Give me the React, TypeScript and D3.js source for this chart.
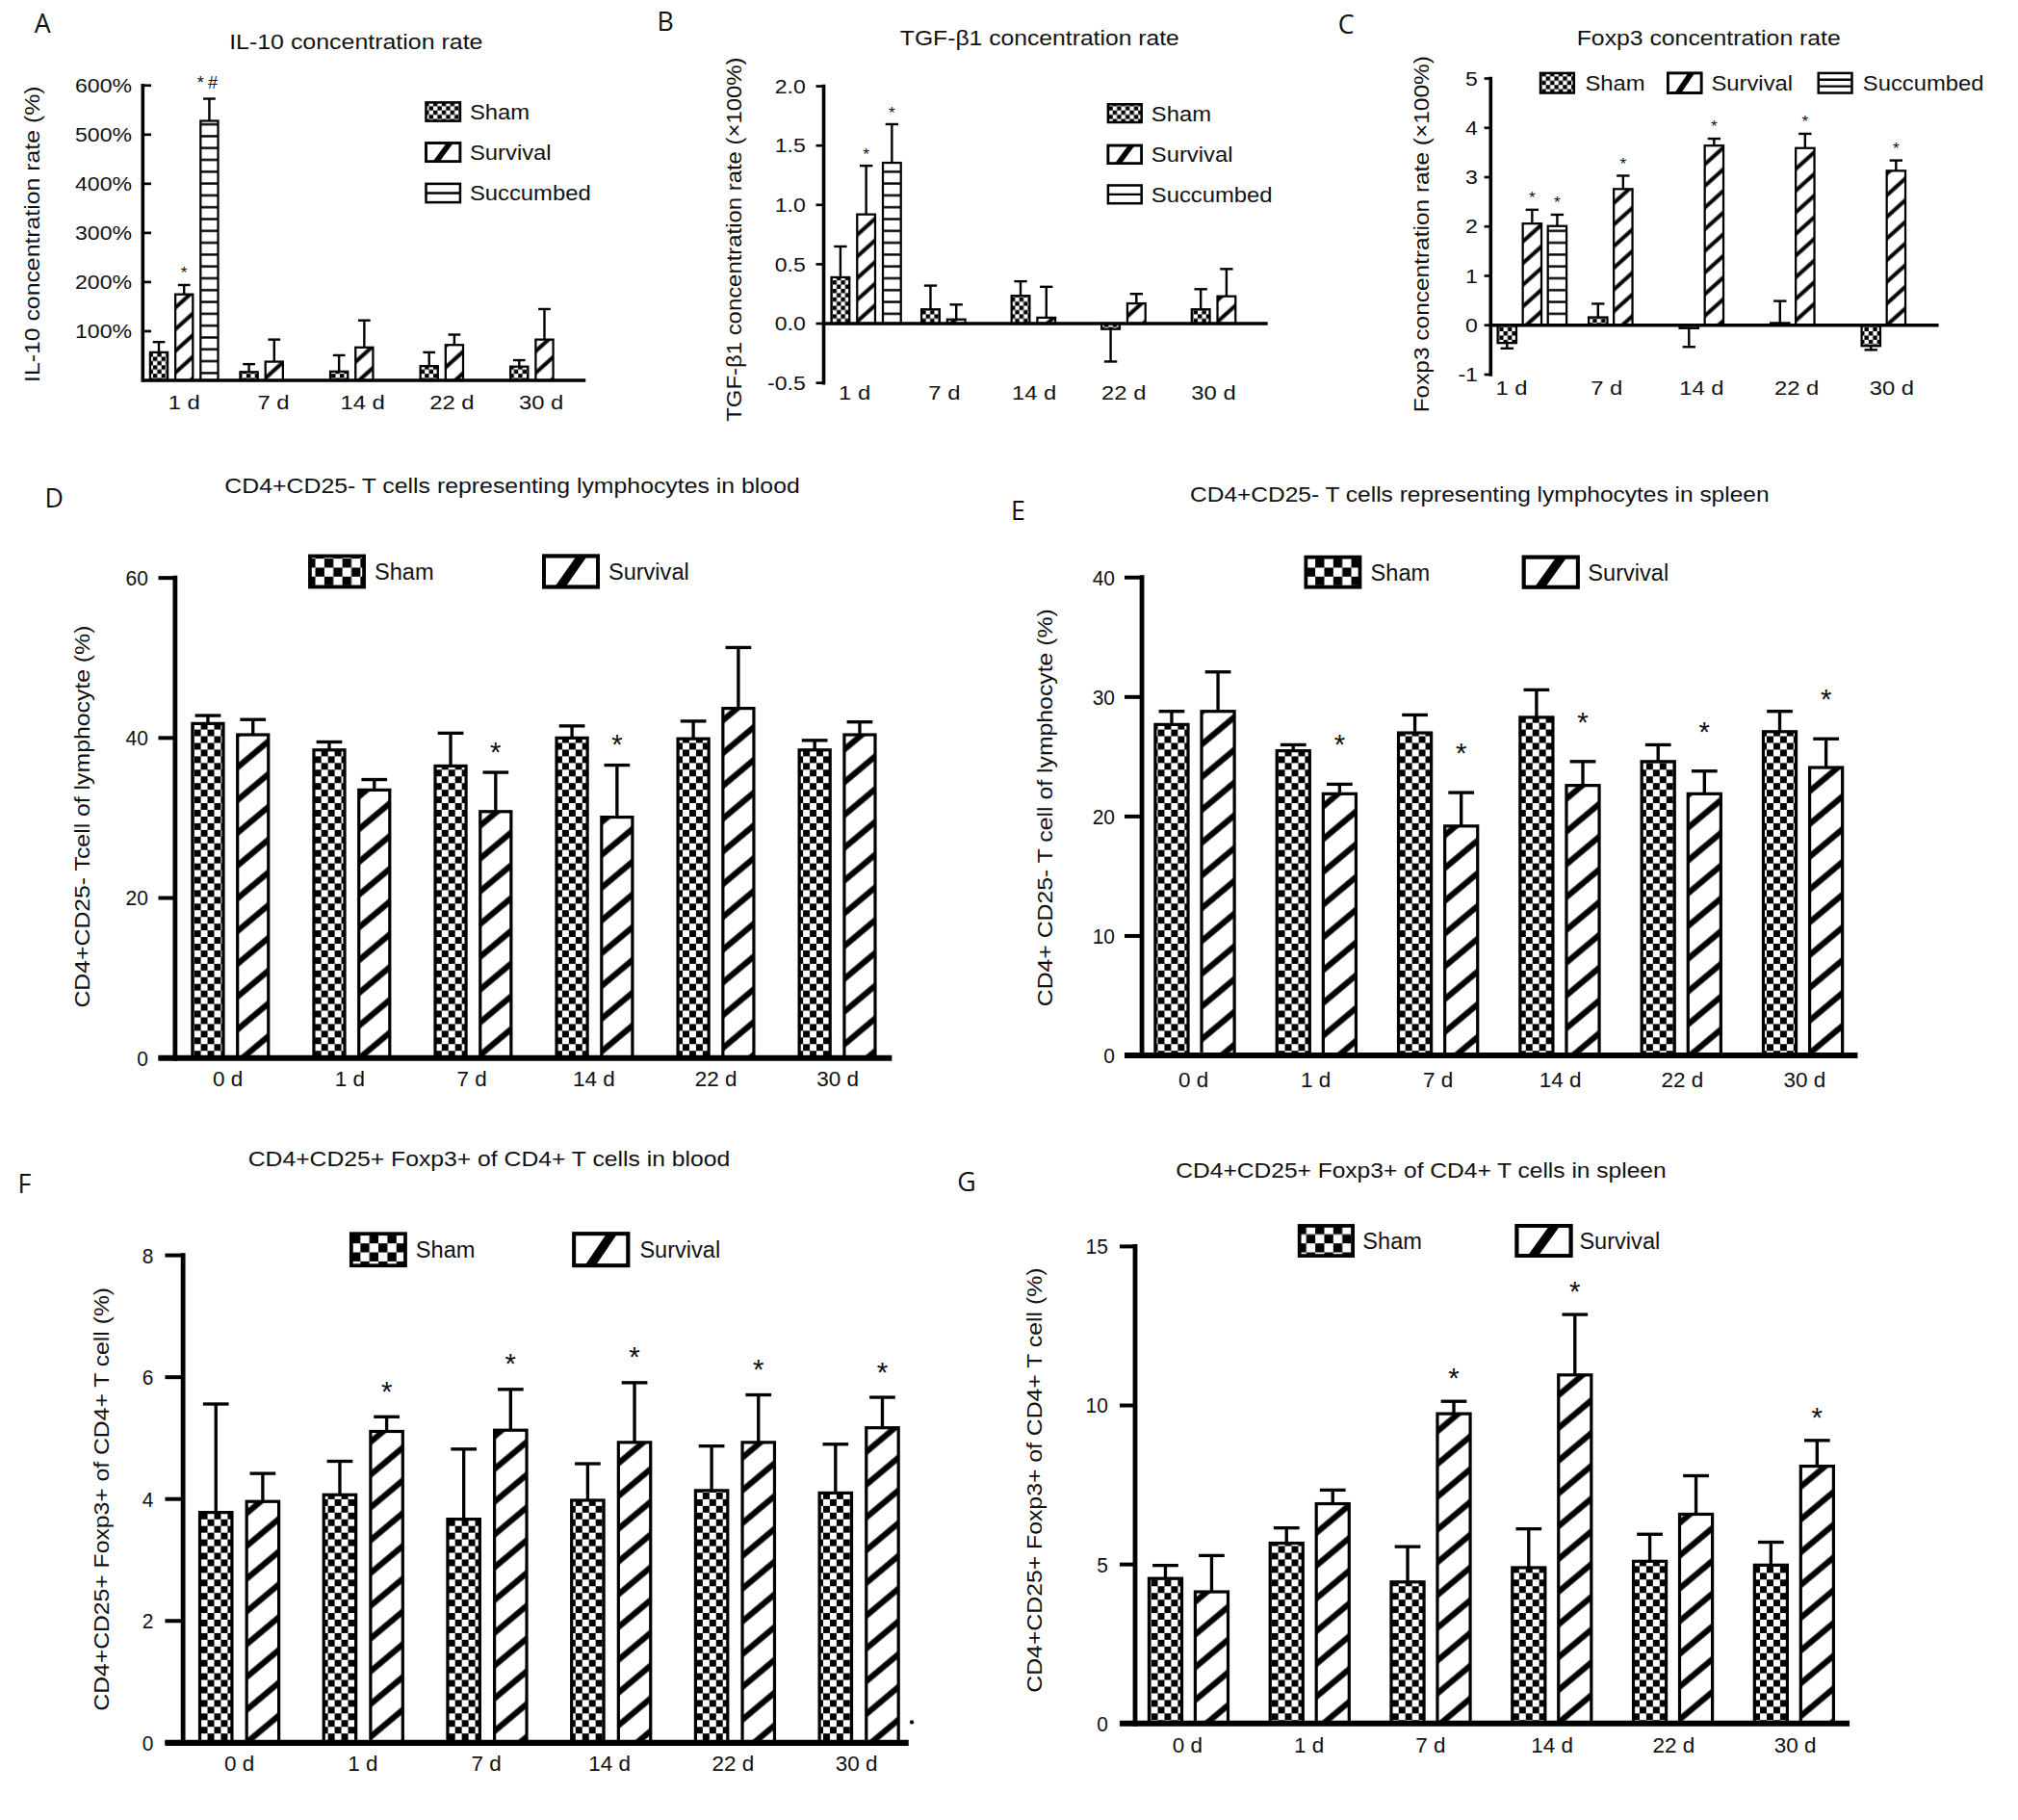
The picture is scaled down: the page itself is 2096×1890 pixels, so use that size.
import React from "react";
import * as d3 from "d3";

const FONT = "'Liberation Sans', Arial, Helvetica, sans-serif";
const LETTER_FONT = "'Open Sans', 'DejaVu Sans', sans-serif";

// ---------------- data ----------------
const daysABC = ["1 d", "7 d", "14 d", "22 d", "30 d"];
const daysDG = ["0 d", "1 d", "7 d", "14 d", "22 d", "30 d"];

// A: IL-10 concentration rate (%)
const il10Sham = [57, 17, 18, 29, 28];
const il10ShamSd = [21, 16, 33, 28, 13];
const il10Survival = [175, 38, 67, 72, 83];
const il10SurvivalSd = [19, 45, 55, 21, 62];
const il10Succumbed = [528, null, null, null, null];
const il10SuccumbedSd = [45, null, null, null, null];
const il10SurvivalSig = ["*", "", "", "", ""];
const il10SuccumbedSig = ["*#", "", "", "", ""];
const il10Ticks = [100, 200, 300, 400, 500, 600];

// B: TGF-β1 concentration rate (×100%)
const tgfSham = [0.39, 0.12, 0.234, -0.046, 0.12];
const tgfShamSd = [0.26, 0.2, 0.122, 0.274, 0.17];
const tgfSurvival = [0.92, 0.035, 0.05, 0.17, 0.23];
const tgfSurvivalSd = [0.41, 0.125, 0.26, 0.08, 0.23];
const tgfSuccumbed = [1.355, null, null, null, null];
const tgfSuccumbedSd = [0.325, null, null, null, null];
const tgfSurvivalSig = ["*", "", "", "", ""];
const tgfSuccumbedSig = ["*", "", "", "", ""];
const tgfTicks = [-0.5, 0, 0.5, 1.0, 1.5, 2.0];

// C: Foxp3 concentration rate (×100%)
const foxSham = [-0.36, 0.16, -0.06, 0.045, -0.42];
const foxShamSd = [0.11, 0.275, 0.38, 0.445, 0.08];
const foxSurvival = [2.06, 2.76, 3.64, 3.59, 3.13];
const foxSurvivalSd = [0.28, 0.27, 0.14, 0.29, 0.21];
const foxSuccumbed = [2.01, null, null, null, null];
const foxSuccumbedSd = [0.23, null, null, null, null];
const foxSurvivalSig = ["*", "*", "*", "*", "*"];
const foxSuccumbedSig = ["*", "", "", "", ""];
const foxTicks = [-1, 0, 1, 2, 3, 4, 5];

// D: CD4+CD25- T cells in blood (%)
const dSham = [41.8, 38.5, 36.5, 40.0, 39.9, 38.5];
const dShamSd = [1.0, 1.0, 4.1, 1.5, 2.2, 1.2];
const dSurvival = [40.4, 33.5, 30.8, 30.1, 43.7, 40.4];
const dSurvivalSd = [1.9, 1.3, 4.9, 6.5, 7.6, 1.6];
const dSurvivalSig = ["", "", "*", "*", "", ""];
const dTicks = [0, 20, 40, 60];

// E: CD4+CD25- T cells in spleen (%)
const eSham = [27.7, 25.5, 27.0, 28.3, 24.6, 27.1];
const eShamSd = [1.1, 0.5, 1.5, 2.3, 1.4, 1.7];
const eSurvival = [28.8, 21.9, 19.2, 22.6, 21.9, 24.1];
const eSurvivalSd = [3.3, 0.8, 2.8, 2.0, 1.9, 2.4];
const eSurvivalSig = ["", "*", "*", "*", "*", "*"];
const eTicks = [0, 10, 20, 30, 40];

// F: CD4+CD25+Foxp3+ of CD4+ T cells in blood (%)
const fSham = [3.78, 4.07, 3.67, 3.98, 4.14, 4.1];
const fShamSd = [1.78, 0.55, 1.15, 0.6, 0.73, 0.8];
const fSurvival = [3.96, 5.11, 5.13, 4.93, 4.93, 5.17];
const fSurvivalSd = [0.46, 0.24, 0.67, 0.98, 0.78, 0.5];
const fSurvivalSig = ["", "*", "*", "*", "*", "*"];
const fTicks = [0, 2, 4, 6, 8];

// G: CD4+CD25+Foxp3+ of CD4+ T cells in spleen (%)
const gSham = [4.56, 5.67, 4.45, 4.9, 5.1, 4.98];
const gShamSd = [0.41, 0.48, 1.11, 1.22, 0.85, 0.72];
const gSurvival = [4.14, 6.91, 9.74, 10.96, 6.58, 8.09];
const gSurvivalSd = [1.14, 0.43, 0.39, 1.9, 1.21, 0.81];
const gSurvivalSig = ["", "", "*", "*", "", "*"];
const gTicks = [0, 5, 10, 15];

const noSig5 = ["", "", "", "", ""];
const noSig6 = ["", "", "", "", "", ""];

// ---------------- helpers ----------------
function Txt({ x, y, children, size, anchor = "middle", sx = 1, len, rotate = 0, family = FONT, fill = "#111", spacing }: any) {
  let tr = `translate(${x},${y})`;
  if (rotate) tr += ` rotate(${rotate})`;
  if (sx !== 1) tr += ` scale(${sx},1)`;
  const extra: any = len ? { textLength: len, lengthAdjust: "spacingAndGlyphs" } : {};
  if (spacing) extra.letterSpacing = spacing;
  return (
    <text transform={tr} fontSize={size} textAnchor={anchor} fontFamily={family} fill={fill} {...extra}>
      {children}
    </text>
  );
}

function Patterns() {
  const chk = (id: string, c: number) => (
    <pattern id={id} width={2 * c} height={2 * c} patternUnits="userSpaceOnUse">
      <rect width={2 * c} height={2 * c} fill="#fff" />
      <rect width={c} height={c} fill="#000" />
      <rect x={c} y={c} width={c} height={c} fill="#000" />
    </pattern>
  );
  const hatch = (id: string, p: number, sw: number, rot: number) => (
    <pattern id={id} width={p} height={p} patternUnits="userSpaceOnUse" patternTransform={`rotate(${rot})`}>
      <rect width={p} height={p} fill="#fff" />
      <line x1={p / 2} y1={-1} x2={p / 2} y2={p + 1} stroke="#000" strokeWidth={sw} />
    </pattern>
  );
  return (
    <defs>
      {chk("chkS", 3.3)}
      {chk("chkL", 5.2)}
      {chk("chkLeg", 7)}
      {chk("chkLegS", 3.3)}
      {hatch("hatchS", 12.5, 3.0, 48)}
      {hatch("hatchL", 19.5, 4.6, 50)}
      <pattern id="horiz" width={10} height={9.2} patternUnits="userSpaceOnUse">
        <rect width={10} height={9.2} fill="#fff" />
        <line x1={0} y1={4.6} x2={10} y2={4.6} stroke="#000" strokeWidth={1.8} />
      </pattern>
    </defs>
  );
}

function Swatch({ kind, x, y, w, h, sw, big, lines }: any) {
  if (kind === "checker") {
    return <rect x={x} y={y} width={w} height={h} fill={big ? "url(#chkLeg)" : "url(#chkLegS)"} stroke="#000" strokeWidth={sw} />;
  }
  if (kind === "hatch") {
    const t = 0.2;
    return (
      <g>
        <rect x={x} y={y} width={w} height={h} fill="#fff" stroke="#000" strokeWidth={sw} />
        <polygon
          points={`${x + w * 0.2},${y + h} ${x + w * (0.2 + t)},${y + h} ${x + w * 0.8},${y} ${x + w * (0.8 - t)},${y}`}
          fill="#000"
        />
        <rect x={x} y={y} width={w} height={h} fill="none" stroke="#000" strokeWidth={sw} />
      </g>
    );
  }
  const ls = d3.range(1, lines + 1).map((k) => y + (h * k) / (lines + 1));
  return (
    <g>
      <rect x={x} y={y} width={w} height={h} fill="#fff" stroke="#000" strokeWidth={sw} />
      {ls.map((ly, i) => (
        <line key={i} x1={x} x2={x + w} y1={ly} y2={ly} stroke="#000" strokeWidth={1.8} />
      ))}
    </g>
  );
}

function BarPanel({ p }: any) {
  const y = d3.scaleLinear().domain(p.yDomain).range(p.yRange);
  const n = p.days.length;
  const xg = d3.scalePoint().domain(p.days).range([p.c0, p.c0 + p.spacing * (n - 1)]);
  const m = p.series.length;
  const pad = 1 - p.barW / p.pitch;
  const xs = d3
    .scaleBand()
    .domain(p.series.map((s: any) => s.key))
    .range([(-m * p.pitch) / 2, (m * p.pitch) / 2])
    .paddingInner(pad)
    .paddingOuter(pad / 2);
  const xl = d3.scalePoint().domain(p.days).range(p.labelRange);
  const y0 = y(0);
  const bw = xs.bandwidth();

  const bars: any[] = [];
  const errs: any[] = [];
  const stars: any[] = [];
  p.series.forEach((s: any) => {
    p.days.forEach((d: string, i: number) => {
      const v = s.values[i];
      if (v === null || v === undefined) return;
      const bx = (xg(d) as number) + (xs(s.key) as number);
      const cx = bx + bw / 2;
      const yv = y(v);
      bars.push(
        <rect
          key={`b-${s.key}-${i}`}
          x={bx}
          y={Math.min(yv, y0)}
          width={bw}
          height={Math.max(Math.abs(yv - y0), 0.5)}
          fill={`url(#${s.fill})`}
          stroke="#000"
          strokeWidth={p.barStroke}
        />
      );
      const sd = s.sd[i];
      if (sd !== null && sd !== undefined) {
        const end = v >= 0 ? v + sd : v - sd;
        const ye = y(end);
        errs.push(
          <g key={`e-${s.key}-${i}`} stroke="#000" strokeWidth={p.errStroke}>
            <line x1={cx} x2={cx} y1={yv} y2={ye} />
            <line x1={cx - p.capW / 2} x2={cx + p.capW / 2} y1={ye} y2={ye} />
          </g>
        );
        const sig = s.sig[i];
        if (sig) {
          const cy = ye - p.starOffset;
          const multi = sig.length > 1;
          stars.push(
            <Txt
              key={`s-${s.key}-${i}`}
              x={cx}
              y={cy + (multi ? 0.4 : 0.575) * p.starFont}
              size={multi ? p.starFont * 1.05 : p.starFont}
              spacing={multi ? 3 : undefined}
            >
              {sig}
            </Txt>
          );
        }
      }
    });
  });

  const topV = p.yDomain[1];
  const botV = p.yDomain[0];
  const dir = p.tickInward ? 1 : -1;

  return (
    <g>
      <Txt x={p.letter[1]} y={p.letter[2] + 0.36 * p.letterFont} size={p.letterFont} family={LETTER_FONT}>
        {p.letter[0]}
      </Txt>
      <Txt x={p.title.x} y={p.title.y + 0.35 * p.title.fs} size={p.title.fs} len={p.title.len}>
        {p.title.text}
      </Txt>
      <Txt x={p.ylab.x + 0.35 * p.ylab.fs} y={p.ylab.cy} size={p.ylab.fs} rotate={-90} len={p.ylab.len}>
        {p.ylab.text}
      </Txt>
      {bars}
      {errs}
      {stars}
      <line
        x1={p.axisX}
        x2={p.axisX}
        y1={y(topV) - p.axisW / 2}
        y2={y(botV) + (botV === 0 ? p.xAxisW / 2 : p.axisW / 2)}
        stroke="#000"
        strokeWidth={p.axisW}
      />
      {p.ticks.map((t: number) => (
        <g key={`t-${t}`}>
          <line x1={p.axisX} x2={p.axisX + dir * p.tickLen} y1={y(t)} y2={y(t)} stroke="#000" strokeWidth={p.tickW} />
          <Txt x={p.axisX - p.labelGap} y={y(t) + 0.36 * p.tickFont} size={p.tickFont} anchor="end" sx={p.tickSx}>
            {p.tickFmt(t)}
          </Txt>
        </g>
      ))}
      <line x1={p.axisX - p.xAxisStartOff} x2={p.xEnd} y1={y0} y2={y0} stroke="#000" strokeWidth={p.xAxisW} />
      {p.days.map((d: string) => (
        <Txt key={`xl-${d}`} x={xl(d)} y={p.labelY} size={p.labelFont} sx={p.labelSx}>
          {d}
        </Txt>
      ))}
      {p.series.map((s: any, i: number) => {
        const L = p.legend[i];
        return (
          <g key={`lg-${s.key}`}>
            <Swatch kind={s.kind} x={L.x} y={L.cy - L.h / 2} w={L.w} h={L.h} sw={p.legendStroke} big={p.bigLegend} lines={L.lines || 1} />
            <Txt x={L.tx} y={L.cy + 0.36 * p.legendFont} size={p.legendFont} anchor="start" sx={p.legendSx}>
              {s.key}
            </Txt>
          </g>
        );
      })}
    </g>
  );
}

// ---------------- panel configs ----------------
const pct = (d: number) => `${d}%`;
const fix1 = (d: number) => d.toFixed(1);
const plain = (d: number) => `${d}`;

const styleABC = {
  barStroke: 1.7,
  errStroke: 1.8,
  axisW: 2.7,
  xAxisW: 2.5,
  tickW: 2,
  tickFont: 15,
  tickSx: 1.15,
  labelFont: 15.5,
  labelSx: 1.15,
  legendFont: 16.5,
  legendSx: 1.08,
  legendStroke: 1.9,
  starFont: 13,
  letterFont: 20,
  xAxisStartOff: 0,
  bigLegend: false,
  tickInward: false,
};
const styleDG = {
  barStroke: 2.4,
  errStroke: 2.5,
  axisW: 3.6,
  xAxisW: 4.6,
  tickW: 3,
  tickFont: 16.5,
  tickSx: 0.95,
  labelFont: 16.5,
  labelSx: 1.02,
  legendFont: 18,
  legendSx: 0.98,
  legendStroke: 2.8,
  starFont: 22,
  letterFont: 20,
  bigLegend: true,
  tickInward: false,
};

const abcSeries = (sham: any, shamSd: any, surv: any, survSd: any, survSig: any, succ: any, succSd: any, succSig: any) => [
  { key: "Sham", values: sham, sd: shamSd, sig: noSig5, fill: "chkS", kind: "checker" },
  { key: "Survival", values: surv, sd: survSd, sig: survSig, fill: "hatchS", kind: "hatch" },
  { key: "Succumbed", values: succ, sd: succSd, sig: succSig, fill: "horiz", kind: "horiz" },
];
const dgSeries = (sham: any, shamSd: any, surv: any, survSd: any, survSig: any) => [
  { key: "Sham", values: sham, sd: shamSd, sig: noSig6, fill: "chkL", kind: "checker" },
  { key: "Survival", values: surv, sd: survSd, sig: survSig, fill: "hatchL", kind: "hatch" },
];

const panels: any[] = [
  {
    ...styleABC,
    days: daysABC,
    series: abcSeries(il10Sham, il10ShamSd, il10Survival, il10SurvivalSd, il10SurvivalSig, il10Succumbed, il10SuccumbedSd, il10SuccumbedSig),
    yDomain: [0, 600],
    yRange: [295.5, 66.4],
    ticks: il10Ticks,
    tickFmt: pct,
    axisX: 110.9,
    xEnd: 455,
    tickInward: true,
    tickLen: 6.5,
    labelGap: 8.5,
    c0: 143,
    spacing: 70,
    pitch: 19.6,
    barW: 13.6,
    capW: 9.5,
    labelRange: [143, 420.5],
    labelY: 318,
    starOffset: 13,
    letter: ["A", 33, 18],
    title: { text: "IL-10 concentration rate", x: 276.6, y: 32.3, fs: 16, len: 197 },
    ylab: { text: "IL-10 concentration rate (%)", x: 25, cy: 182, fs: 16, len: 230 },
    legend: [
      { x: 331, w: 26.5, h: 14.4, cy: 86.8, tx: 365 },
      { x: 331, w: 26.5, h: 14.4, cy: 118.3, tx: 365 },
      { x: 331, w: 26.5, h: 14.4, cy: 150, tx: 365, lines: 1 },
    ],
  },
  {
    ...styleABC,
    days: daysABC,
    series: abcSeries(tgfSham, tgfShamSd, tgfSurvival, tgfSurvivalSd, tgfSurvivalSig, tgfSuccumbed, tgfSuccumbedSd, tgfSuccumbedSig),
    yDomain: [-0.5, 2],
    yRange: [297.5, 67],
    ticks: tgfTicks,
    tickFmt: fix1,
    axisX: 640,
    xEnd: 985,
    tickLen: 6,
    labelGap: 14,
    c0: 673,
    spacing: 70,
    pitch: 20,
    barW: 14,
    capW: 10,
    labelRange: [664, 943],
    labelY: 310.5,
    starOffset: 12,
    letter: ["B", 517, 17],
    title: { text: "TGF-β1 concentration rate", x: 807.8, y: 29.5, fs: 16, len: 217 },
    ylab: { text: "TGF-β1 concentration rate (×100%)", x: 570.6, cy: 186, fs: 16, len: 283 },
    legend: [
      { x: 861, w: 26, h: 14, cy: 88, tx: 894.6 },
      { x: 861, w: 26, h: 14, cy: 120, tx: 894.6 },
      { x: 861, w: 26, h: 14, cy: 151, tx: 894.6, lines: 1 },
    ],
  },
  {
    ...styleABC,
    days: daysABC,
    series: abcSeries(foxSham, foxShamSd, foxSurvival, foxSurvivalSd, foxSurvivalSig, foxSuccumbed, foxSuccumbedSd, foxSuccumbedSig),
    yDomain: [-1, 5],
    yRange: [291, 61],
    ticks: foxTicks,
    tickFmt: plain,
    axisX: 1158.3,
    xEnd: 1506.4,
    tickLen: 5,
    labelGap: 10,
    c0: 1190.5,
    spacing: 70.7,
    pitch: 19.5,
    barW: 14.5,
    capW: 10,
    labelRange: [1174.5, 1470],
    labelY: 306.5,
    starOffset: 12.4,
    letter: ["C", 1046, 19],
    title: { text: "Foxp3 concentration rate", x: 1327.7, y: 29.4, fs: 16, len: 205 },
    ylab: { text: "Foxp3 concentration rate (×100%)", x: 1104.6, cy: 182, fs: 16, len: 277 },
    legend: [
      { x: 1197, w: 26, h: 15.4, cy: 64.5, tx: 1231.7 },
      { x: 1296, w: 26, h: 15.4, cy: 64.5, tx: 1329.7 },
      { x: 1413, w: 26, h: 15.4, cy: 64.5, tx: 1447.5, lines: 2 },
    ],
  },
  {
    ...styleDG,
    days: daysDG,
    series: dgSeries(dSham, dShamSd, dSurvival, dSurvivalSd, dSurvivalSig),
    yDomain: [0, 60],
    yRange: [822, 449],
    ticks: dTicks,
    tickFmt: plain,
    axisX: 136,
    xEnd: 693,
    tickLen: 13,
    labelGap: 21,
    xAxisStartOff: 13,
    c0: 179,
    spacing: 94.3,
    pitch: 35,
    barW: 24,
    capW: 20,
    labelRange: [177, 651],
    labelY: 844,
    starOffset: 21,
    letter: ["D", 42, 387],
    title: { text: "CD4+CD25- T cells  representing lymphocytes in  blood", x: 398, y: 377, fs: 16.5, len: 447 },
    ylab: { text: "CD4+CD25- Tcell of lymphocyte (%)", x: 64, cy: 634.5, fs: 16, len: 297 },
    legend: [
      { x: 240.8, w: 42, h: 24, cy: 444, tx: 291 },
      { x: 422.6, w: 42, h: 24, cy: 444, tx: 472.7 },
    ],
  },
  {
    ...styleDG,
    days: daysDG,
    series: dgSeries(eSham, eShamSd, eSurvival, eSurvivalSd, eSurvivalSig),
    yDomain: [0, 40],
    yRange: [820, 448.7],
    ticks: eTicks,
    tickFmt: plain,
    axisX: 887.3,
    xEnd: 1443.4,
    tickLen: 13.5,
    labelGap: 21,
    xAxisStartOff: 13.5,
    c0: 928.4,
    spacing: 94.5,
    pitch: 36,
    barW: 25.5,
    capW: 20,
    labelRange: [927.4, 1402.3],
    labelY: 844.5,
    starOffset: 36,
    letter: ["E", 791, 397],
    title: { text: "CD4+CD25- T cells  representing lymphocytes in spleen", x: 1149.7, y: 384, fs: 16.5, len: 450 },
    ylab: { text: "CD4+ CD25- T cell of lymphocyte (%)", x: 811.9, cy: 627.5, fs: 16, len: 309 },
    legend: [
      { x: 1014.7, w: 42, h: 23.3, cy: 444.5, tx: 1065 },
      { x: 1184, w: 42, h: 23.3, cy: 444.5, tx: 1233.9 },
    ],
  },
  {
    ...styleDG,
    days: daysDG,
    series: dgSeries(fSham, fShamSd, fSurvival, fSurvivalSd, fSurvivalSig),
    yDomain: [0, 8],
    yRange: [1354, 975.3],
    ticks: fTicks,
    tickFmt: plain,
    axisX: 142.2,
    xEnd: 706,
    tickLen: 14,
    labelGap: 23,
    xAxisStartOff: 14,
    c0: 185.9,
    spacing: 96.3,
    pitch: 36.4,
    barW: 25,
    capW: 20,
    labelRange: [186, 665.5],
    labelY: 1376,
    starOffset: 25,
    letter: ["F", 19, 920],
    title: { text: "CD4+CD25+ Foxp3+ of CD4+ T cells in blood", x: 380, y: 900, fs: 16.5, len: 374.5 },
    ylab: { text: "CD4+CD25+ Foxp3+ of CD4+ T cell (%)", x: 78.7, cy: 1164.7, fs: 16, len: 329 },
    legend: [
      { x: 272.9, w: 42, h: 24.7, cy: 970.9, tx: 323 },
      { x: 446, w: 42, h: 24.7, cy: 970.9, tx: 497 },
    ],
  },
  {
    ...styleDG,
    days: daysDG,
    series: dgSeries(gSham, gShamSd, gSurvival, gSurvivalSd, gSurvivalSig),
    yDomain: [0, 15],
    yRange: [1339, 968.4],
    ticks: gTicks,
    tickFmt: plain,
    axisX: 882,
    xEnd: 1437.2,
    tickLen: 12,
    labelGap: 21,
    xAxisStartOff: 12,
    c0: 923.5,
    spacing: 94.1,
    pitch: 35.9,
    barW: 25.5,
    capW: 20,
    labelRange: [922.7, 1395],
    labelY: 1362,
    starOffset: 23,
    letter: ["G", 751, 918],
    title: { text: "CD4+CD25+ Foxp3+ of CD4+ T cells in spleen", x: 1104.2, y: 909.5, fs: 16.5, len: 381 },
    ylab: { text: "CD4+CD25+ Foxp3+ of CD4+ T cell (%)", x: 804, cy: 1150, fs: 16, len: 330 },
    legend: [
      { x: 1009.7, w: 41.5, h: 23.3, cy: 964, tx: 1058.8 },
      { x: 1178.6, w: 42, h: 23.3, cy: 964, tx: 1227.2 },
    ],
  },
];

export default function App() {
  return (
    <div style={{ position: "absolute", left: 0, top: 0, background: "#fff" }}>
      <svg width={2096} height={1890} viewBox="0 0 1568 1414" style={{ display: "block", background: "#fff" }}>
        <Patterns />
        <rect width={1568} height={1414} fill="#fff" />
        {panels.map((p, i) => (
          <BarPanel key={i} p={p} />
        ))}
        <circle cx={708.5} cy={1338} r={1.6} fill="#000" />
      </svg>
    </div>
  );
}
